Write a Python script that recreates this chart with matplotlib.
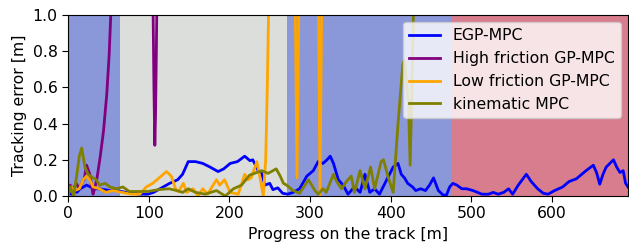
import numpy as np
import matplotlib
matplotlib.use("Agg")
import matplotlib.pyplot as plt

# Background regions: (start, end, color)
region_bounds = [0, 64.5, 271, 475.5, 694]
region_colors = ["#8a97d8", "#dcdedc", "#8a97d8", "#d87d8d"]

# EGP-MPC
egp_x = [0, 4, 7, 11, 15, 19, 23, 28, 33, 38, 45, 52, 60, 72, 80, 88, 99, 106, 114, 120, 126, 131, 136,
         142, 149, 158, 167, 176, 186, 193, 201, 210, 219, 225.5, 229, 235.7, 240, 244, 250, 254, 260, 266,
         272, 279, 287, 296, 304, 310, 316, 321, 325, 329, 335, 341, 347, 355, 362, 368, 374, 380, 386,
         395, 403, 409, 413, 417, 421, 427, 431, 437, 443, 448, 453, 459, 465, 469, 473, 477, 482, 488,
         494, 502, 513, 521, 527, 533, 540, 546, 551, 558, 568, 574, 582, 589, 595, 603, 613, 621, 630,
         642, 651, 655, 659, 663, 667, 676, 680, 684, 688, 691, 694]
egp_y = [0.02, 0.01, 0.03, 0.02, 0.04, 0.05, 0.06, 0.05, 0.04, 0.04, 0.035, 0.03, 0.03, 0.02, 0.02, 0.01,
         0.01, 0.02, 0.04, 0.055, 0.07, 0.08, 0.09, 0.12, 0.19, 0.19, 0.18, 0.16, 0.135, 0.15, 0.18,
         0.19, 0.22, 0.195, 0.2, 0.14, 0.125, 0.06, 0.07, 0.035, 0.045, 0.015, 0.01, 0.02, 0.04, 0.11,
         0.14, 0.19, 0.18, 0.2, 0.22, 0.18, 0.09, 0.06, 0.01, 0.05, 0.02, 0.12, 0.02, 0.04, 0.01, 0.09,
         0.16, 0.18, 0.12, 0.1, 0.07, 0.05, 0.03, 0.04, 0.03, 0.06, 0.1, 0.03, 0.005, 0.005, 0.05, 0.07,
         0.06, 0.04, 0.04, 0.03, 0.01, 0.01, 0.02, 0.01, 0.02, 0.04, 0.01, 0.06, 0.12, 0.08, 0.04, 0.015,
         0.01, 0.03, 0.05, 0.08, 0.095, 0.14, 0.17, 0.13, 0.065, 0.12, 0.16, 0.2, 0.16, 0.13, 0.14, 0.07,
         0.05]

# High friction GP-MPC (leaves the chart above 1.0)
high_x = [0, 3, 6, 10, 14, 18, 20, 23, 27, 31, 33, 36, 40, 44, 48, 51, 53, 56, 60, 100, 104, 105.5,
          106.5, 107.6, 108.5, 109.5, 110.5, 112, 150, 694]
high_y = [0.02, 0.06, 0.03, 0.07, 0.04, 0.08, 0.09, 0.17, 0.12, 0.01, 0.04, 0.1, 0.22, 0.36, 0.56, 0.78,
          1.0, 1.4, 2.5, 2.5, 1.6, 1.0, 0.6, 0.28, 0.45, 0.8, 1.2, 2.0, 2.5, 2.5]

# Low friction GP-MPC (leaves the chart above 1.0)
low_x = [0, 4, 8, 14, 19, 23, 27, 31, 39, 47, 55, 67, 79, 89, 97, 105, 113, 122, 128, 134, 137, 143,
         147, 155, 161, 167, 173, 184, 188, 194, 201, 211, 219, 223, 227, 234, 238, 242, 245, 247, 248.5,
         252, 280, 281.3, 283.8, 286.5, 288, 309, 310.3, 312.3, 314.5, 316, 694]
low_y = [0.01, 0.05, 0.03, 0.04, 0.09, 0.11, 0.09, 0.05, 0.04, 0.02, 0.03, 0.02, 0.01, 0.01, 0.05, 0.07,
         0.1, 0.135, 0.11, 0.03, 0.025, 0.07, 0.02, 0.04, 0.0, 0.04, 0.01, 0.09, 0.06, 0.09, 0.02, 0.01,
         0.12, 0.09, 0.1, 0.19, 0.1, 0.0, 0.2, 0.6, 1.0, 2.5, 2.5, 1.2, 0.1, 1.2, 2.5, 2.5, 1.1, 0.0, 1.1,
         2.5, 2.5]

# kinematic MPC (leaves the chart above 1.0)
kin_x = [0, 3, 7, 11, 14, 17, 21, 25, 31, 35, 39, 46, 52, 60, 68, 76, 88, 99, 112, 125, 135, 142, 149,
         158, 170, 184, 195, 205, 215, 225, 240, 248, 258, 263, 267, 271, 279, 287, 298, 306, 310, 316,
         320, 329, 333, 339, 345, 351, 355, 362, 368, 375, 380, 388, 391, 397, 403, 409, 415, 417, 422,
         424, 426, 428, 431, 694]
kin_y = [0.0, 0.05, 0.0, 0.12, 0.22, 0.265, 0.16, 0.12, 0.1, 0.09, 0.06, 0.07, 0.05, 0.04, 0.05, 0.025,
         0.025, 0.025, 0.035, 0.04, 0.03, 0.02, 0.04, 0.02, 0.01, 0.03, 0.0, 0.04, 0.06, 0.115, 0.14,
         0.125, 0.15, 0.11, 0.07, 0.06, 0.03, 0.015, 0.09, 0.03, 0.01, 0.04, 0.02, 0.12, 0.08, 0.04,
         0.08, 0.11, 0.02, 0.14, 0.04, 0.16, 0.04, 0.19, 0.2, 0.1, 0.02, 0.4, 0.73, 0.75, 0.51, 0.17,
         0.55, 1.0, 2.5, 2.5]

plt.rcParams["font.size"] = 11.3

fig = plt.figure(figsize=(6.29, 2.46), dpi=100)
ax = fig.add_axes([68 / 629, 1 - 196 / 246, 560 / 629, 181 / 246])

for i, c in enumerate(region_colors):
    ax.axvspan(region_bounds[i], region_bounds[i + 1], color=c, lw=0, zorder=0)

lw = 2.0
ax.plot(egp_x, egp_y, color="blue", lw=lw, label="EGP-MPC")
ax.plot(high_x, high_y, color="purple", lw=lw, label="High friction GP-MPC")
ax.plot(low_x, low_y, color="orange", lw=lw, label="Low friction GP-MPC")
ax.plot(kin_x, kin_y, color="olive", lw=lw, label="kinematic MPC")

ax.set_xlim(0, 694)
ax.set_ylim(0, 1.0)
ax.set_yticks([0.0, 0.2, 0.4, 0.6, 0.8, 1.0])
ax.set_xticks([0, 100, 200, 300, 400, 500, 600])
ax.tick_params(length=4)
ax.set_xlabel("Progress on the track [m]")
ax.set_ylabel("Tracking error [m]")
ax.legend(loc="upper right", borderaxespad=0.45)

fig.savefig("out.png", dpi=100)
